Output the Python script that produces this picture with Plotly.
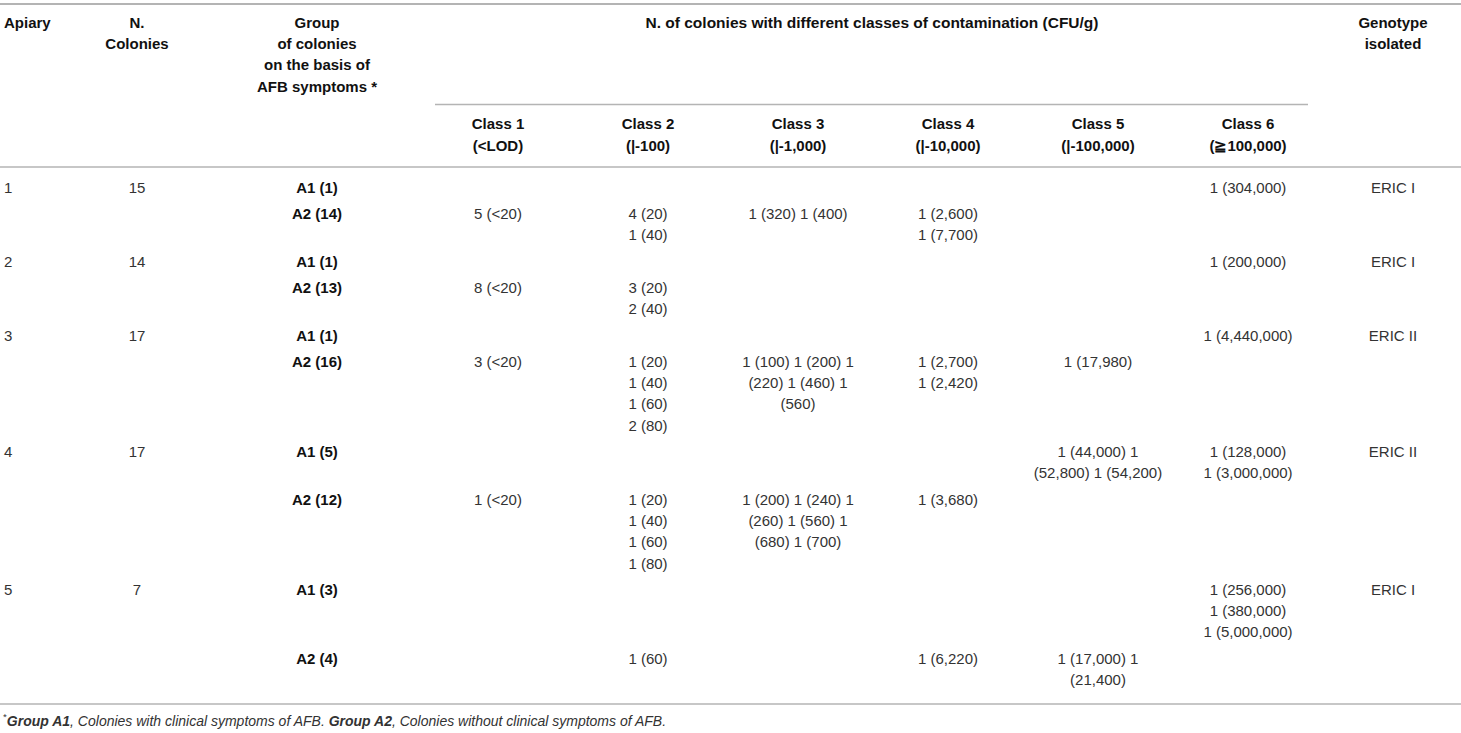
import plotly.graph_objects as go

# table content
apiary = ["1", "", "2", "", "3", "", "4", "", "5", ""]
n_colonies = ["15", "", "14", "", "17", "", "17", "", "7", ""]
groups = ["A1 (1)", "A2 (14)", "A1 (1)", "A2 (13)", "A1 (1)", "A2 (16)",
          "A1 (5)", "A2 (12)", "A1 (3)", "A2 (4)"]
class1 = [[], ["5 (<20)"], [], ["8 (<20)"], [], ["3 (<20)"], [], ["1 (<20)"], [], []]
class2 = [[], ["4 (20)", "1 (40)"], [], ["3 (20)", "2 (40)"], [],
          ["1 (20)", "1 (40)", "1 (60)", "2 (80)"], [],
          ["1 (20)", "1 (40)", "1 (60)", "1 (80)"], [], ["1 (60)"]]
class3 = [[], ["1 (320) 1 (400)"], [], [], [],
          ["1 (100) 1 (200) 1", "(220) 1 (460) 1", "(560)"], [],
          ["1 (200) 1 (240) 1", "(260) 1 (560) 1", "(680) 1 (700)"], [], []]
class4 = [[], ["1 (2,600)", "1 (7,700)"], [], [], [],
          ["1 (2,700)", "1 (2,420)"], [], ["1 (3,680)"], [], ["1 (6,220)"]]
class5 = [[], [], [], [], [], ["1 (17,980)"],
          ["1 (44,000) 1", "(52,800) 1 (54,200)"], [], [],
          ["1 (17,000) 1", "(21,400)"]]
class6 = [["1 (304,000)"], [], ["1 (200,000)"], [], ["1 (4,440,000)"], [],
          ["1 (128,000)", "1 (3,000,000)"], [],
          ["1 (256,000)", "1 (380,000)", "1 (5,000,000)"], []]
genotype = ["ERIC I", "", "ERIC I", "", "ERIC II", "", "ERIC II", "", "ERIC I", ""]

class_names = ["Class 1", "Class 2", "Class 3", "Class 4", "Class 5", "Class 6"]
class_ranges = ["(<LOD)", "(|-100)", "(|-1,000)", "(|-10,000)", "(|-100,000)", "(\u2267100,000)"]

group_header = ["Group", "of colonies", "on the basis of", "AFB symptoms *"]
span_header = "N. of colonies with different classes of contamination (CFU/g)"
footnote = ("<sup>*</sup><b><i>Group A1</i></b><i>, Colonies with clinical symptoms of AFB. </i>"
            "<b><i>Group A2</i></b><i>, Colonies without clinical symptoms of AFB.</i>")

# layout constants (pixels)
W, H = 1461, 733
X_APIARY = 4
X_NCOL = 137
X_GROUP = 317
X_CLASS = [498, 648, 798, 948, 1098, 1248]
X_GENO = 1393
X_SPAN = 872
LINE_H = 21.3
ROW_PAD = 5
FIRST_ROW_Y = 189
HEAD_Y = 24

FONT = "Liberation Sans, Arial, sans-serif"
HEAD_COLOR = "#111111"
TEXT_COLOR = "#333333"
RULE_COLOR = "#b4b4b4"
HEAD_SIZE = 15
BODY_SIZE = 15

# row start positions from the number of lines in each row
class_cols = [class1, class2, class3, class4, class5, class6]
row_y = []
y = FIRST_ROW_Y
for i in range(len(groups)):
    n = max([1] + [len(c[i]) for c in class_cols])
    row_y.append(y)
    y += n * LINE_H + ROW_PAD

fig = go.Figure()


def add_text(xs, ys, texts, size, color, pos="middle center", bold=False):
    keep = [(a, b, t) for a, b, t in zip(xs, ys, texts) if t]
    xs = [k[0] for k in keep]
    ys = [k[1] for k in keep]
    texts = [("<b>" + k[2] + "</b>") if bold else k[2] for k in keep]
    fig.add_trace(go.Scatter(x=xs, y=ys, text=texts, mode="text",
                             textposition=pos, hoverinfo="skip",
                             textfont=dict(family=FONT, size=size, color=color),
                             showlegend=False))


# header
add_text([X_APIARY], [HEAD_Y], ["Apiary"], HEAD_SIZE, HEAD_COLOR, "middle right", True)
add_text([X_NCOL, X_NCOL], [HEAD_Y, HEAD_Y + LINE_H], ["N.", "Colonies"], HEAD_SIZE, HEAD_COLOR, bold=True)
add_text([X_GROUP] * 4, [HEAD_Y + k * LINE_H for k in range(4)], group_header, HEAD_SIZE, HEAD_COLOR, bold=True)
add_text([X_SPAN], [HEAD_Y], [span_header], 15.5, HEAD_COLOR, bold=True)
add_text([X_GENO, X_GENO], [HEAD_Y, HEAD_Y + LINE_H], ["Genotype", "isolated"], HEAD_SIZE, HEAD_COLOR, bold=True)
add_text(X_CLASS, [125] * 6, class_names, HEAD_SIZE, HEAD_COLOR, bold=True)
add_text(X_CLASS, [147] * 6, class_ranges, HEAD_SIZE, HEAD_COLOR, bold=True)

# body
add_text([X_APIARY] * len(apiary), row_y, apiary, BODY_SIZE, TEXT_COLOR, "middle right")
add_text([X_NCOL] * len(n_colonies), row_y, n_colonies, BODY_SIZE, TEXT_COLOR)
add_text([X_GROUP] * len(groups), row_y, groups, HEAD_SIZE, HEAD_COLOR, bold=True)
for cx, col in zip(X_CLASS, class_cols):
    xs, ys, ts = [], [], []
    for i, lines in enumerate(col):
        for k, t in enumerate(lines):
            xs.append(cx)
            ys.append(row_y[i] + k * LINE_H)
            ts.append(t)
    add_text(xs, ys, ts, BODY_SIZE, TEXT_COLOR)
add_text([X_GENO] * len(genotype), row_y, genotype, BODY_SIZE, TEXT_COLOR)

# footnote
add_text([3], [722], [footnote], 14, TEXT_COLOR, "middle right")

# rules
rules = [(0, W, 4, 2), (435, 1308, 104.5, 1.5), (0, W, 167, 1.5), (0, W, 704, 1.5)]
for x0, x1, yy, lw in rules:
    fig.add_shape(type="line", x0=x0, x1=x1, y0=yy, y1=yy, xref="x", yref="y",
                  line=dict(color=RULE_COLOR, width=lw))

fig.update_layout(
    width=W, height=H,
    margin=dict(l=0, r=0, t=0, b=0),
    paper_bgcolor="white", plot_bgcolor="white",
    xaxis=dict(range=[0, W], visible=False, fixedrange=True),
    yaxis=dict(range=[H, 0], visible=False, fixedrange=True),
    hovermode=False,
)

fig.write_html("out.html", config={"displayModeBar": False},
               post_script="document.body.style.margin='0px';")
